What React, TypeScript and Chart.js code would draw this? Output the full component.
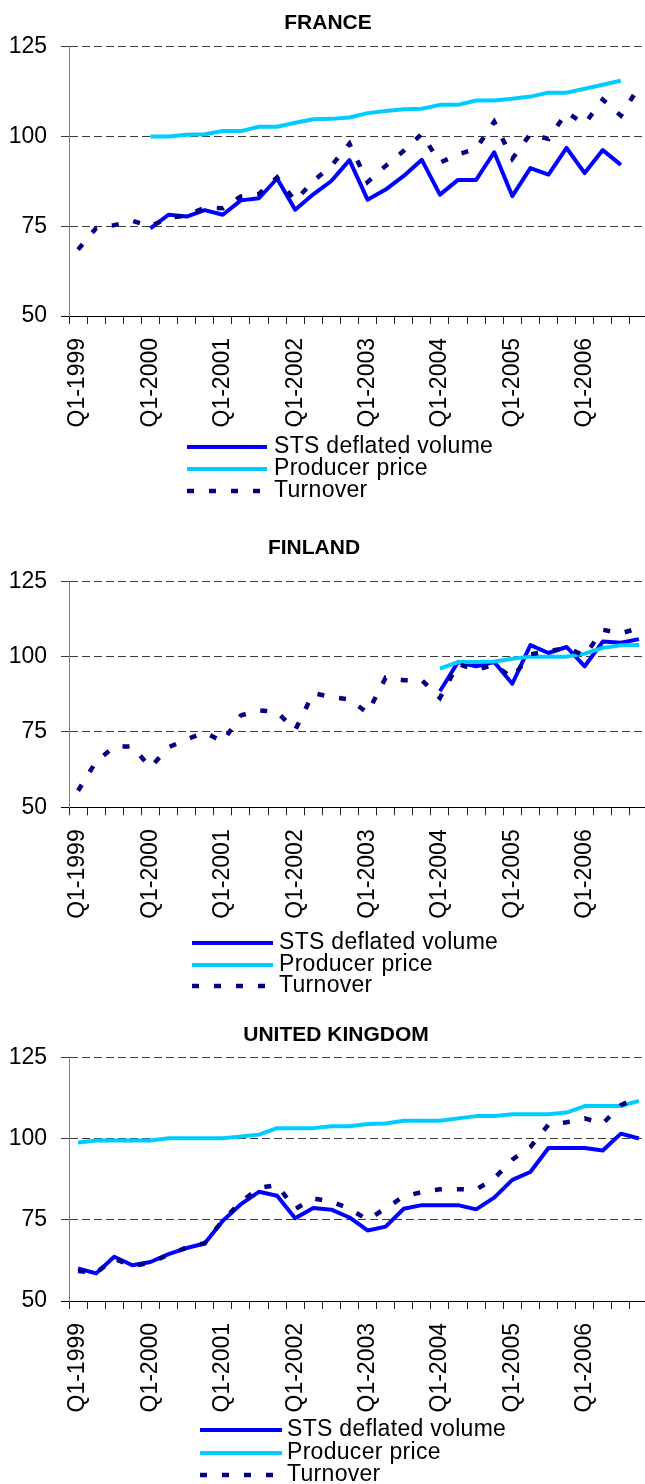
import React, { useEffect, useRef } from "react";
import { Chart, registerables } from "chart.js";
Chart.register(...registerables);

const FONT = "'Liberation Sans', Arial, sans-serif";

const categories = [
  "Q1-1999", "Q2-1999", "Q3-1999", "Q4-1999",
  "Q1-2000", "Q2-2000", "Q3-2000", "Q4-2000",
  "Q1-2001", "Q2-2001", "Q3-2001", "Q4-2001",
  "Q1-2002", "Q2-2002", "Q3-2002", "Q4-2002",
  "Q1-2003", "Q2-2003", "Q3-2003", "Q4-2003",
  "Q1-2004", "Q2-2004", "Q3-2004", "Q4-2004",
  "Q1-2005", "Q2-2005", "Q3-2005", "Q4-2005",
  "Q1-2006", "Q2-2006", "Q3-2006", "Q4-2006",
];

const yTicks = [50, 75, 100, 125];
const seriesNames = ["STS deflated volume", "Producer price", "Turnover"];

// FRANCE
const franceSts = [
  null, null, null, null, 74.4, 78.2, 77.7, 79.5, 78.2, 82.2, 82.8, 88.3,
  79.6, 83.9, 87.6, 93.4, 82.4, 85.2, 89.0, 93.5, 83.8, 87.9, 87.9, 95.6,
  83.4, 91.2, 89.4, 96.8, 89.8, 96.2, 92.1, null,
];
const franceProducer = [
  null, null, null, null, 100.0, 100.0, 100.5, 100.6, 101.5, 101.5, 102.7, 102.7,
  103.8, 104.8, 104.9, 105.3, 106.5, 107.1, 107.6, 107.7, 108.8, 108.8, 110.0, 110.0,
  110.5, 111.1, 112.2, 112.2, 113.3, 114.4, 115.5, null,
];
const franceTurnover = [
  68.5, 74.5, 75.3, 76.5, 75.0, 77.3, 78.0, 80.2, 80.0, 83.3, 84.0, 88.6,
  82.0, 87.6, 91.8, 98.0, 87.3, 91.8, 96.0, 100.7, 92.7, 95.0, 96.6, 104.1,
  93.8, 100.7, 99.3, 106.7, 103.5, 110.3, 105.8, 113.8,
];

// FINLAND
const finlandSts = [
  null, null, null, null, null, null, null, null, null, null, null, null,
  null, null, null, null, null, null, null, null, 88.5, 98.2, 96.8, 98.2,
  91.0, 103.8, 101.2, 103.2, 96.8, 105.0, 104.6, 105.8,
];
const finlandProducer = [
  null, null, null, null, null, null, null, null, null, null, null, null,
  null, null, null, null, null, null, null, null, 96.0, 98.2, 98.2, 98.4,
  99.3, 100.0, 100.0, 100.0, 101.0, 102.9, 103.8, 103.9,
];
const finlandTurnover = [
  55.5, 65.2, 70.1, 70.2, 63.2, 69.9, 72.6, 74.8, 71.8, 80.5, 82.2, 81.6,
  75.6, 87.9, 86.6, 85.8, 81.3, 93.0, 92.2, 92.2, 86.3, 97.6, 95.5, 97.4,
  93.0, 100.8, 101.7, 103.0, 100.3, 108.9, 107.7, 109.5,
];

// UNITED KINGDOM
const ukSts = [
  60.0, 58.5, 63.6, 61.0, 62.0, 64.4, 66.3, 67.7, 74.7, 79.8, 83.6, 82.4,
  75.5, 78.6, 78.1, 75.7, 71.7, 72.9, 78.4, 79.5, 79.5, 79.5, 78.2, 81.8,
  87.3, 89.7, 97.1, 97.1, 97.1, 96.3, 101.5, 100.0,
];
const ukProducer = [
  98.8, 99.4, 99.4, 99.4, 99.4, 100.1, 100.1, 100.1, 100.1, 100.6, 101.2, 103.2,
  103.2, 103.2, 103.8, 103.8, 104.5, 104.6, 105.5, 105.5, 105.5, 106.2, 106.9, 106.9,
  107.5, 107.5, 107.5, 108.0, 110.0, 110.0, 110.0, 111.6,
];
const ukTurnover = [
  59.2, 58.7, 63.0, 60.8, 61.8, 64.2, 66.5, 67.8, 74.8, 80.5, 84.8, 85.7,
  78.3, 81.6, 80.6, 78.4, 75.0, 78.5, 82.2, 83.5, 84.4, 84.4, 84.3, 87.7,
  93.5, 97.4, 104.3, 105.0, 106.2, 104.6, 110.3, 112.7,
];

const COLORS = { sts: "#0000ff", producer: "#00ccff", turnover: "#000080" };

const decorPlugin = {
  id: "decor",
  afterDraw(chart: any, _args: any, opts: any) {
    const ctx = chart.ctx;
    ctx.save();
    ctx.fillStyle = "#000";
    ctx.textBaseline = "middle";
    ctx.textAlign = "center";
    ctx.font = `bold 21px ${FONT}`;
    ctx.fillText(opts.title, opts.titleX, opts.titleY);
    ctx.textAlign = "left";
    ctx.font = `23px ${FONT}`;
    chart.data.datasets.forEach((ds: any, i: number) => {
      const y = opts.rows[i];
      ctx.beginPath();
      ctx.strokeStyle = ds.borderColor;
      ctx.lineWidth = ds.borderWidth;
      ctx.lineCap = "butt";
      ctx.setLineDash(ds.borderDash || []);
      ctx.moveTo(opts.x1, y);
      ctx.lineTo(opts.x2, y);
      ctx.stroke();
      ctx.setLineDash([]);
      ctx.fillStyle = "#000";
      if ("letterSpacing" in ctx) (ctx as any).letterSpacing = "0.3px";
      ctx.fillText(ds.label, opts.textX, y);
      if ("letterSpacing" in ctx) (ctx as any).letterSpacing = "0px";
    });
    ctx.restore();
  },
};

type Cfg = {
  top: number;
  height: number;
  padTop: number;
  padBottom: number;
  title: string;
  titleX: number;
  titleY: number;
  x1: number;
  x2: number;
  textX: number;
  rows: number[];
  sts: (number | null)[];
  producer: (number | null)[];
  turnover: (number | null)[];
};

const CANVAS_W = 650;

function LineChart({ cfg }: { cfg: Cfg }) {
  const ref = useRef<HTMLCanvasElement>(null);
  useEffect(() => {
    const isBase = (c: any) => c.tick && c.tick.value === 50;
    const chart = new Chart(ref.current as HTMLCanvasElement, {
      type: "line",
      data: {
        labels: categories,
        datasets: [
          {
            label: seriesNames[0],
            data: cfg.sts,
            borderColor: COLORS.sts,
            borderWidth: 4,
            pointRadius: 0,
            tension: 0,
            borderJoinStyle: "round",
            spanGaps: false,
            order: 3,
          },
          {
            label: seriesNames[1],
            data: cfg.producer,
            borderColor: COLORS.producer,
            borderWidth: 4,
            pointRadius: 0,
            tension: 0,
            borderJoinStyle: "round",
            spanGaps: false,
            order: 2,
          },
          {
            label: seriesNames[2],
            data: cfg.turnover,
            borderColor: COLORS.turnover,
            borderWidth: 4.5,
            borderDash: [7, 15],
            borderCapStyle: "butt",
            pointRadius: 0,
            tension: 0,
            spanGaps: false,
            order: 1,
          },
        ] as any,
      },
      options: {
        animation: false,
        responsive: false,
        events: [],
        layout: { padding: { top: cfg.padTop, right: 2, bottom: cfg.padBottom, left: 0 } },
        plugins: {
          legend: { display: false },
          title: { display: false },
          tooltip: { enabled: false },
          decor: {
            title: cfg.title,
            titleX: cfg.titleX,
            titleY: cfg.titleY,
            x1: cfg.x1,
            x2: cfg.x2,
            textX: cfg.textX,
            rows: cfg.rows,
          },
        } as any,
        scales: {
          x: {
            type: "category",
            offset: true,
            grid: {
              display: true,
              drawOnChartArea: false,
              drawTicks: true,
              tickLength: 8,
              offset: true,
              tickColor: "#202020",
              color: "#202020",
            },
            border: { display: true, color: "#000", width: 1 },
            ticks: {
              autoSkip: false,
              maxRotation: 90,
              minRotation: 90,
              padding: 14,
              color: "#000",
              font: { family: FONT, size: 23 },
              callback: (value: any) => {
                const l = categories[value as number];
                return l && l.startsWith("Q1") ? l : "";
              },
            },
            afterFit: (s: any) => {
              s.height = 120;
              s.paddingLeft = 0;
              s.paddingRight = 0;
            },
          },
          y: {
            min: yTicks[0],
            max: yTicks[yTicks.length - 1],
            afterBuildTicks: (s: any) => {
              s.ticks = yTicks.map((v) => ({ value: v }));
            },
            ticks: {
              padding: 14,
              color: "#000",
              font: { family: FONT, size: 23 },
            },
            grid: {
              color: (c: any) => (isBase(c) ? "#000" : "#3a3a3a"),
              tickColor: (c: any) => (isBase(c) ? "#000" : "#3a3a3a"),
              tickLength: 8,
              tickBorderDash: (c: any) => (isBase(c) ? [] : [8, 4]),
              lineWidth: 1,
            },
            border: {
              display: true,
              color: "#7f7f7f",
              width: 1,
              dash: (c: any) => (isBase(c) || !c.tick ? [] : [8, 4]),
            },
            afterFit: (s: any) => {
              s.width = 69;
              s.paddingTop = 0;
              s.paddingBottom = 0;
            },
          },
        } as any,
      },
      plugins: [decorPlugin],
    });
    return () => chart.destroy();
  }, []);
  return (
    <div
      style={{
        position: "absolute",
        left: 0,
        top: cfg.top,
        width: CANVAS_W,
        height: cfg.height,
      }}
    >
      <canvas
        ref={ref}
        width={CANVAS_W}
        height={cfg.height}
        style={{ display: "block", width: CANVAS_W, height: cfg.height }}
      />
    </div>
  );
}

const charts: Cfg[] = [
  {
    top: 0,
    height: 500,
    padTop: 46.7,
    padBottom: 64,
    title: "FRANCE",
    titleX: 328,
    titleY: 23,
    x1: 187,
    x2: 267,
    textX: 274,
    rows: [447, 469, 491],
    sts: franceSts,
    producer: franceProducer,
    turnover: franceTurnover,
  },
  {
    top: 500,
    height: 500,
    padTop: 81.3,
    padBottom: 72.7,
    title: "FINLAND",
    titleX: 314,
    titleY: 48.7,
    x1: 192,
    x2: 273,
    textX: 279,
    rows: [443, 465, 486],
    sts: finlandSts,
    producer: finlandProducer,
    turnover: finlandTurnover,
  },
  {
    top: 1000,
    height: 484,
    padTop: 57.3,
    padBottom: 63,
    title: "UNITED KINGDOM",
    titleX: 336,
    titleY: 35,
    x1: 200,
    x2: 282,
    textX: 287,
    rows: [430, 453, 475],
    sts: ukSts,
    producer: ukProducer,
    turnover: ukTurnover,
  },
];

export default function App() {
  return (
    <div
      style={{
        position: "absolute",
        left: 0,
        top: 0,
        width: 645,
        height: 1484,
        overflow: "hidden",
        background: "#fff",
      }}
    >
      {charts.map((c, i) => (
        <LineChart key={i} cfg={c} />
      ))}
    </div>
  );
}
